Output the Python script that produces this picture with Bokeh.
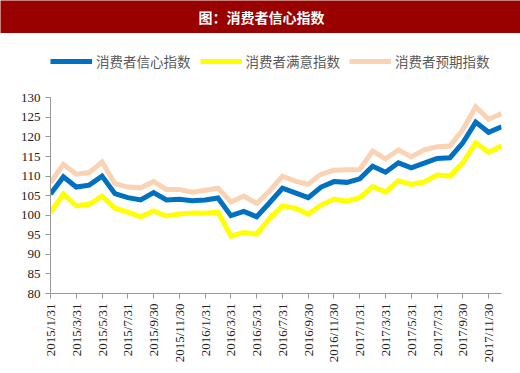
import math
from bokeh.plotting import figure
from bokeh.models import Range1d, FixedTicker, Legend, LegendItem, Label
from bokeh.layouts import column
from bokeh.embed import file_html
from bokeh.resources import INLINE

months = [
    "2015/1/31", "2015/2/28", "2015/3/31", "2015/4/30", "2015/5/31", "2015/6/30",
    "2015/7/31", "2015/8/31", "2015/9/30", "2015/10/31", "2015/11/30", "2015/12/31",
    "2016/1/31", "2016/2/29", "2016/3/31", "2016/4/30", "2016/5/31", "2016/6/30",
    "2016/7/31", "2016/8/31", "2016/9/30", "2016/10/31", "2016/11/30", "2016/12/31",
    "2017/1/31", "2017/2/28", "2017/3/31", "2017/4/30", "2017/5/31", "2017/6/30",
    "2017/7/31", "2017/8/31", "2017/9/30", "2017/10/31", "2017/11/30", "2017/12/31",
]

confidence = [105.4, 109.8, 107.2, 107.7, 110.0, 105.5, 104.5, 103.9, 105.8, 103.9, 104.1, 103.7,
              103.9, 104.4, 99.9, 101.0, 99.6, 103.2, 106.9, 105.7, 104.5, 107.2, 108.6, 108.4,
              109.3, 112.5, 111.0, 113.4, 112.1, 113.3, 114.5, 114.7, 118.5, 123.8, 121.2, 122.6]
satisfaction = [100.7, 105.4, 102.4, 102.8, 104.9, 101.8, 100.8, 99.6, 101.1, 99.8, 100.3, 100.6,
                100.5, 100.8, 94.7, 95.6, 95.2, 99.2, 102.4, 101.8, 100.3, 102.6, 104.1, 103.6,
                104.5, 107.3, 105.9, 108.8, 107.9, 108.5, 110.3, 110.0, 113.4, 118.5, 116.1, 117.7]
expectation = [108.3, 113.0, 110.5, 110.9, 113.6, 108.1, 107.2, 107.0, 108.6, 106.6, 106.6, 105.9,
               106.4, 106.9, 103.4, 104.9, 103.0, 106.2, 110.0, 108.7, 107.9, 110.5, 111.5, 111.6,
               111.7, 116.4, 114.4, 116.7, 114.9, 116.7, 117.5, 117.7, 121.9, 127.7, 124.5, 126.0]

series_names = ["消费者信心指数", "消费者满意指数", "消费者预期指数"]
series_colors = ["#0070C0", "#FFFF00", "#FAD3B5"]
y_ticks = [80, 85, 90, 95, 100, 105, 110, 115, 120, 125, 130]
title_text = "图：消费者信心指数"

W = 520
x = list(range(len(months)))

header = figure(width=W, height=33, x_range=Range1d(0, W), y_range=Range1d(0, 33),
                output_backend="svg", toolbar_location=None, min_border=0,
                x_axis_type=None, y_axis_type=None,
                background_fill_color="#990000", border_fill_color="#990000",
                outline_line_color=None)
header.grid.visible = False
header.add_layout(Label(x=261, y=16.5, x_units="screen", y_units="screen", text=title_text,
                        text_color="white", text_font="Noto Sans CJK SC", text_font_style="bold",
                        text_font_size="14px", text_align="center", text_baseline="middle"))

p = figure(width=W, height=340, x_range=Range1d(0, 35), y_range=Range1d(80, 144.4),
           output_backend="svg", toolbar_location=None,
           min_border_left=50, min_border_right=19, min_border_top=8, min_border_bottom=80,
           outline_line_color=None, background_fill_color="white", border_fill_color="white")
p.grid.visible = False

data = [confidence, satisfaction, expectation]
renderers = []
for vals, c in zip(data, series_colors):
    renderers.append(p.line(x, vals, line_color=c, line_width=5, line_join="miter"))

legend = Legend(items=[LegendItem(label=n, renderers=[r]) for n, r in zip(series_names, renderers)],
                location=(0, 222), orientation="horizontal", border_line_color=None,
                background_fill_alpha=0, padding=0, margin=0, spacing=9, label_standoff=4,
                glyph_width=42, glyph_height=18, label_height=18,
                label_text_font="Noto Sans CJK SC", label_text_font_size="13.5px",
                label_text_color="#595959")
p.add_layout(legend, "center")

p.xaxis.ticker = FixedTicker(ticks=list(range(0, len(months), 2)))
p.xaxis.major_label_overrides = {i: months[i] for i in range(0, len(months), 2)}
p.xaxis.major_label_orientation = math.pi / 2
p.yaxis.ticker = FixedTicker(ticks=y_ticks)
p.yaxis.bounds = (80, 130)
for ax in (p.xaxis, p.yaxis):
    ax.major_label_text_font = "Liberation Serif"
    ax.major_label_text_font_size = "13px"
    ax.major_label_text_color = "#222222"
    ax.axis_line_color = "#999999"
    ax.major_tick_line_color = "#999999"
    ax.minor_tick_line_color = None
    ax.major_tick_out = 5
    ax.major_tick_in = 0
    ax.major_label_standoff = 5

layout = column(column(header), p, spacing=0)
open("out.html", "w").write(file_html(layout, INLINE, "消费者信心指数"))
